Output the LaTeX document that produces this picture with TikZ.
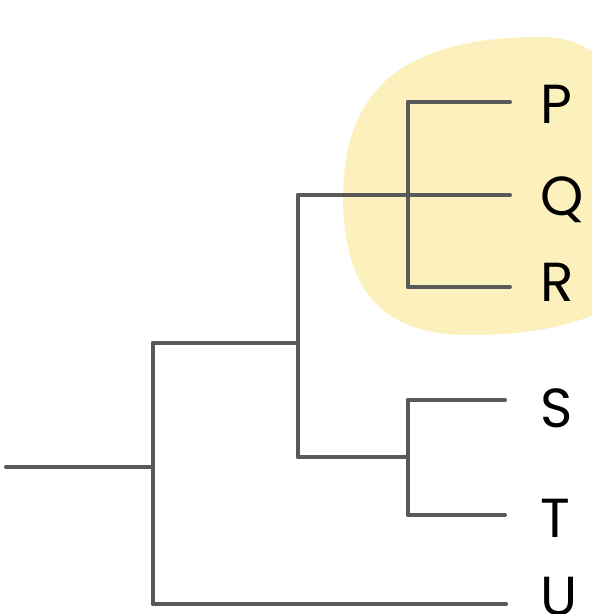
\documentclass[tikz,border=0pt]{standalone}
\usepackage{fontspec}
\setmainfont{Poppins}
\definecolor{blob}{HTML}{FCF1BC}
\definecolor{branch}{HTML}{595959}
\begin{document}
\begin{tikzpicture}[x=1pt,y=-1pt,
  br/.style={draw=branch,line width=4pt,line cap=round,line join=miter},
  leaf/.style={anchor=base west,inner sep=0pt,font=\fontsize{55}{60}\selectfont}]
\useasboundingbox (0,0) rectangle (592,614);
\begin{scope}
\clip (0,0) rectangle (592,614);
\fill[blob] (343,200) .. controls (343,110) and (380,37) .. (540,37)
  .. controls (585,37) and (610,60) .. (620,90) -- (620,300)
  .. controls (590,322) and (540,335) .. (470,335)
  .. controls (390,335) and (345,300) .. (343,200) -- cycle;
\end{scope}
% coordinates
\coordinate (root) at (6,467);
\coordinate (n1) at (153,467);
\coordinate (n1t) at (153,343);
\coordinate (n1b) at (153,604);
\coordinate (n2) at (298,343);
\coordinate (n2t) at (298,195);
\coordinate (n2b) at (298,457);
\coordinate (n3) at (408,195);
\coordinate (n3t) at (408,102);
\coordinate (n3b) at (408,287);
\coordinate (n4) at (408,457);
\coordinate (n4t) at (408,400);
\coordinate (n4b) at (408,515);
\coordinate (eP) at (510,102);
\coordinate (eQ) at (510,195);
\coordinate (eR) at (510,287);
\coordinate (eS) at (505,400);
\coordinate (eT) at (505,515);
\coordinate (eU) at (506,604);
% branches
\draw[br] (root) -- (n1);
\draw[br] (n1t) -- (n1b);
\draw[br] (n1t) -- (n2);
\draw[br] (n1b) -- (eU);
\draw[br] (n2t) -- (n2b);
\draw[br] (n2t) -- (n3);
\draw[br] (n2b) -- (n4);
\draw[br] (n3t) -- (n3b);
\draw[br] (n3t) -- (eP);
\draw[br] (n3) -- (eQ);
\draw[br] (n3b) -- (eR);
\draw[br] (n4t) -- (n4b);
\draw[br] (n4t) -- (eS);
\draw[br] (n4b) -- (eT);
% labels
\node[leaf] (P) at (540,123) {P};
\node[leaf] (Q) at (540,215) {Q};
\node[leaf] (R) at (540,301) {R};
\node[leaf] (S) at (540,427) {S};
\node[leaf] (T) at (540,537) {T};
\node[leaf] (U) at (540,615) {U};
\end{tikzpicture}
\end{document}
